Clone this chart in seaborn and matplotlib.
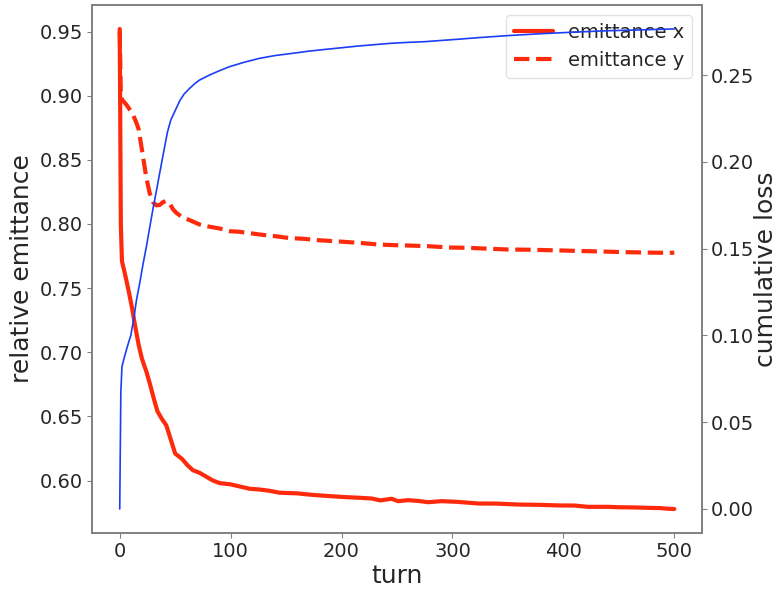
import matplotlib
matplotlib.use("Agg")
import matplotlib.pyplot as plt
import seaborn as sns
import pandas as pd

# Relative horizontal emittance per turn
turn_x = [0, 1, 2, 5, 8, 11, 14, 17, 20, 24, 27, 31, 34, 38, 42, 46, 50, 53, 56, 61,
          66, 72, 78, 84, 90, 100, 105, 117, 126, 135, 144, 160, 171, 190, 205, 215,
          227, 235, 245, 251, 260, 270, 278, 290, 304, 323, 340, 359, 380, 395, 410,
          422, 440, 449, 465, 476, 488, 494, 500]
emit_x = [0.952, 0.800, 0.771, 0.760, 0.748, 0.735, 0.720, 0.706, 0.695, 0.685, 0.676,
          0.663, 0.654, 0.648, 0.643, 0.632, 0.621, 0.619, 0.617, 0.612, 0.608, 0.606,
          0.603, 0.600, 0.598, 0.597, 0.596, 0.5936, 0.593, 0.592, 0.5905, 0.590, 0.589,
          0.5878, 0.5870, 0.5866, 0.586, 0.5845, 0.5858, 0.5839, 0.5847, 0.5840, 0.5831,
          0.5839, 0.5834, 0.5821, 0.5820, 0.5813, 0.5810, 0.5806, 0.5805, 0.5795, 0.5795,
          0.5792, 0.5790, 0.5787, 0.5785, 0.5780, 0.5778]

# Relative vertical emittance per turn
turn_y = [0, 1, 2, 6, 10, 12, 15, 17, 20, 22, 24, 27, 30, 33, 36, 39, 42, 45, 48, 51,
          56, 63, 72, 80, 90, 99, 108, 126, 140, 153, 165, 180, 195, 207, 220, 233, 247,
          260, 278, 287, 300, 314, 330, 350, 370, 386, 404, 422, 440, 458, 476, 494, 500]
emit_y = [0.950, 0.900, 0.897, 0.893, 0.888, 0.885, 0.879, 0.874, 0.858, 0.847, 0.836,
          0.824, 0.817, 0.8145, 0.8148, 0.8170, 0.8180, 0.8160, 0.8115, 0.8087, 0.8055,
          0.8030, 0.7996, 0.7980, 0.7965, 0.7944, 0.7939, 0.7918, 0.7905, 0.789, 0.7885,
          0.7873, 0.7865, 0.7858, 0.7850, 0.784, 0.7835, 0.7832, 0.7827, 0.7822, 0.7816,
          0.7814, 0.7808, 0.7801, 0.7799, 0.7796, 0.7792, 0.7788, 0.7784, 0.7780, 0.7777,
          0.7775, 0.7776]

# Cumulative particle loss per turn
turn_loss = [0, 1, 2, 4, 6, 8, 10, 13, 15, 18, 21, 24, 27, 30, 33, 36, 40, 43, 46, 50,
             54, 58, 63, 68, 72, 81, 90, 99, 112, 126, 140, 156, 170, 186, 200, 215, 230,
             245, 260, 275, 290, 305, 323, 350, 380, 410, 440, 470, 497, 500]
loss = [0.0, 0.067, 0.082, 0.087, 0.0916, 0.096, 0.100, 0.111, 0.120, 0.130, 0.141,
        0.151, 0.162, 0.173, 0.183, 0.1934, 0.207, 0.217, 0.224, 0.2295, 0.2350, 0.2390,
        0.2423, 0.2452, 0.2471, 0.2500, 0.2525, 0.2548, 0.2573, 0.2596, 0.2612, 0.2625,
        0.2637, 0.2648, 0.2657, 0.2667, 0.2675, 0.2683, 0.2688, 0.2692, 0.2699, 0.2706,
        0.2715, 0.2727, 0.2738, 0.2747, 0.2755, 0.2760, 0.2765, 0.2765]

sns.set_style("ticks")
plt.rcParams["font.family"] = ["DejaVu Sans"]

RED = "#fe2a0c"
BLUE = "#1c3ef5"
SPINE = "#808080"

df_x = pd.DataFrame({"turn": turn_x, "emittance": emit_x})
df_y = pd.DataFrame({"turn": turn_y, "emittance": emit_y})
df_l = pd.DataFrame({"turn": turn_loss, "loss": loss})

fig = plt.figure(figsize=(7.79, 5.89), dpi=100)
ax = fig.add_axes([92 / 779, 56 / 589, 610 / 779, 528 / 589])

sns.lineplot(data=df_x, x="turn", y="emittance", ax=ax, color=RED, lw=3,
             label="emittance x", sort=False, estimator=None)
sns.lineplot(data=df_y, x="turn", y="emittance", ax=ax, color=RED, lw=3,
             linestyle="--", label="emittance y", sort=False, estimator=None)

ax2 = ax.twinx()
sns.lineplot(data=df_l, x="turn", y="loss", ax=ax2, color=BLUE, lw=1.2,
             legend=False, sort=False, estimator=None)

ax.set_xlabel("turn", fontsize=18, labelpad=2)
ax.set_ylabel("relative emittance", fontsize=18, labelpad=4)
ax2.set_ylabel("cumulative loss", fontsize=18, labelpad=0)
ax.set_xticks([0, 100, 200, 300, 400, 500])
ax.set_yticks([0.60, 0.65, 0.70, 0.75, 0.80, 0.85, 0.90, 0.95])
ax2.set_yticks([0.00, 0.05, 0.10, 0.15, 0.20, 0.25])

for a in (ax, ax2):
    a.tick_params(labelsize=14, color=SPINE, length=3.5, pad=3)
    for s in a.spines.values():
        s.set_visible(True)
        s.set_color(SPINE)
        s.set_linewidth(1.2)

leg = ax.legend(loc="upper right", fontsize=14)
leg.get_frame().set_edgecolor("#dddddd")

fig.savefig("out.png", dpi=100)
